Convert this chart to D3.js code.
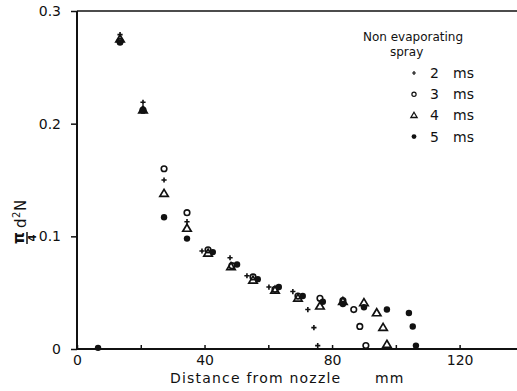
<!DOCTYPE html>
<html>
<head>
<meta charset="utf-8">
<script src="https://cdn.jsdelivr.net/npm/d3@7"></script>
<style>
  html, body { margin: 0; padding: 0; background: #fff; }
  svg { display: block; }
  text { font-family: "DejaVu Sans", sans-serif; fill: #111; }
</style>
</head>
<body>
<svg id="chart" width="517" height="391"></svg>
<script>
// Distance from nozzle (mm) and (pi/4) d^2 N for each injection time
const ms2x = [13.5, 20.7, 27.3, 34.5, 39.2, 48.0, 53.3, 60.2, 67.7, 72.4, 74.3, 75.5];
const ms2y = [0.279, 0.219, 0.150, 0.113, 0.087, 0.081, 0.065, 0.055, 0.051, 0.035, 0.019, 0.003];

const ms3x = [13.5, 20.7, 27.3, 34.5, 41.1, 48.6, 55.2, 62.1, 69.3, 76.2, 83.4, 86.8, 88.7, 90.6];
const ms3y = [0.273, 0.212, 0.160, 0.121, 0.088, 0.074, 0.064, 0.053, 0.047, 0.045, 0.043, 0.035, 0.020, 0.003];

const ms4x = [13.5, 20.7, 27.3, 34.5, 41.1, 48.3, 55.2, 62.1, 69.3, 76.2, 83.4, 90.0, 94.0, 96.0, 97.2];
const ms4y = [0.275, 0.212, 0.138, 0.107, 0.085, 0.073, 0.061, 0.052, 0.045, 0.038, 0.042, 0.041, 0.032, 0.019, 0.004];

const ms5x = [6.6, 13.5, 20.7, 27.3, 34.5, 42.6, 50.2, 56.7, 63.3, 70.8, 77.1, 83.4, 90.0, 97.2, 104.1, 105.3, 106.3];
const ms5y = [0.001, 0.272, 0.212, 0.117, 0.098, 0.086, 0.075, 0.062, 0.055, 0.047, 0.042, 0.040, 0.037, 0.035, 0.032, 0.020, 0.003];

const xTicks = [0, 20, 40, 60, 80, 100, 120];
const xTickLabels = ["0", "", "40", "", "80", "", "120"];
const yTicks = [0, 0.1, 0.2, 0.3];
const yTickLabels = ["0", "0.1", "0.2", "0.3"];

const legendTitle = ["Non evaporating", "spray"];
const seriesNames = ["2", "3", "4", "5"];
const seriesKinds = ["cross", "circle", "triangle", "dot"];

const svg = d3.select("#chart");
const ink = "#111";

const x = d3.scaleLinear().domain([0, 138]).range([77, 517]);
const y = d3.scaleLinear().domain([0, 0.3]).range([349, 11]);

// Axes frame: left axis, bottom axis, top border
svg.append("line").attr("x1", x(0)).attr("x2", 517).attr("y1", y(0)).attr("y2", y(0))
  .attr("stroke", ink).attr("stroke-width", 2);
svg.append("line").attr("x1", x(0)).attr("x2", x(0)).attr("y1", y(0.3)).attr("y2", y(0))
  .attr("stroke", ink).attr("stroke-width", 2);
svg.append("line").attr("x1", x(0)).attr("x2", 517).attr("y1", y(0.3)).attr("y2", y(0.3))
  .attr("stroke", ink).attr("stroke-width", 1.6);

// x ticks point into the plot
const xAxis = d3.axisBottom(x).tickValues(xTicks).tickSize(-4)
  .tickFormat((d, i) => xTickLabels[i]).tickPadding(6);
const gx = svg.append("g").attr("transform", `translate(0,${y(0)})`).call(xAxis);
gx.select(".domain").remove();
gx.selectAll(".tick line").attr("stroke", ink).attr("stroke-width", 1.5);
gx.selectAll(".tick text").style("font-size", "14px").attr("fill", ink).attr("dy", "0.71em");

// y ticks point out of the plot
const yAxis = d3.axisLeft(y).tickValues(yTicks).tickSize(6)
  .tickFormat((d, i) => yTickLabels[i]).tickPadding(10);
const gy = svg.append("g").attr("transform", `translate(${x(0)},0)`).call(yAxis);
gy.select(".domain").remove();
gy.selectAll(".tick line").attr("stroke", ink).attr("stroke-width", 1.5);
gy.selectAll(".tick text").style("font-size", "14px").attr("fill", ink);

// Axis titles
svg.append("text").attr("x", 170).attr("y", 383)
  .style("font-size", "14px").style("letter-spacing", "1.2px")
  .text("Distance from nozzle");
svg.append("text").attr("x", 375).attr("y", 383)
  .style("font-size", "14px").style("letter-spacing", "1.2px")
  .text("mm");

const yt = svg.append("g").attr("transform", "translate(26,244) rotate(-90)");
yt.append("text").attr("x", 6).attr("y", -2).attr("text-anchor", "middle")
  .style("font-size", "15px").style("font-weight", "bold").text("π");
yt.append("line").attr("x1", 0).attr("x2", 12).attr("y1", 1).attr("y2", 1)
  .attr("stroke", ink).attr("stroke-width", 1.5);
yt.append("text").attr("x", 6).attr("y", 10).attr("text-anchor", "middle")
  .style("font-size", "10px").style("font-weight", "bold").text("4");
const ytd = yt.append("text").attr("x", 16).attr("y", 0)
  .style("font-size", "15px").style("letter-spacing", "0.5px");
ytd.append("tspan").text("d");
ytd.append("tspan").attr("dy", -6).style("font-size", "10px").text("2");
ytd.append("tspan").attr("dy", 6).text("N");

// Marker drawing
function drawMarker(g, kind, cx, cy, s) {
  if (kind === "cross") {
    g.append("path")
      .attr("d", `M${cx - 2.6 * s},${cy}H${cx + 2.6 * s}M${cx},${cy - 2.6 * s}V${cy + 2.6 * s}`)
      .attr("stroke", ink).attr("stroke-width", 1.6 * s).attr("fill", "none");
  } else if (kind === "circle") {
    g.append("circle").attr("cx", cx).attr("cy", cy).attr("r", 2.8 * s)
      .attr("fill", "none").attr("stroke", ink).attr("stroke-width", 1.6 * s);
  } else if (kind === "triangle") {
    const h = 7 * s, w = 4.2 * s;
    g.append("path")
      .attr("d", `M${cx},${cy - h * 0.6}L${cx + w},${cy + h * 0.4}L${cx - w},${cy + h * 0.4}Z`)
      .attr("stroke", ink).attr("stroke-width", 1.7 * s).attr("fill", "none")
      .attr("stroke-linejoin", "miter");
  } else {
    g.append("circle").attr("cx", cx).attr("cy", cy).attr("r", 3.2 * s).attr("fill", ink);
  }
}

const series = [
  { kind: "cross", xs: ms2x, ys: ms2y },
  { kind: "circle", xs: ms3x, ys: ms3y },
  { kind: "triangle", xs: ms4x, ys: ms4y },
  { kind: "dot", xs: ms5x, ys: ms5y }
];

const marks = svg.append("g");
series.forEach(sr => {
  const g = marks.append("g").attr("class", "series-" + sr.kind);
  sr.xs.forEach((v, i) => drawMarker(g, sr.kind, x(v), y(sr.ys[i]), 1));
});

// Legend
const lg = svg.append("g");
lg.append("text").attr("x", 363).attr("y", 41).style("font-size", "12px").text(legendTitle[0]);
lg.append("text").attr("x", 390).attr("y", 56).style("font-size", "12px").text(legendTitle[1]);
seriesNames.forEach((nm, i) => {
  const cy = 73 + i * 21.2;
  drawMarker(lg, seriesKinds[i], 414, cy, 0.75);
  lg.append("text").attr("x", 430).attr("y", cy + 5).style("font-size", "14px").text(nm);
  lg.append("text").attr("x", 453).attr("y", cy + 5).style("font-size", "14px").text("ms");
});
</script>
</body>
</html>
